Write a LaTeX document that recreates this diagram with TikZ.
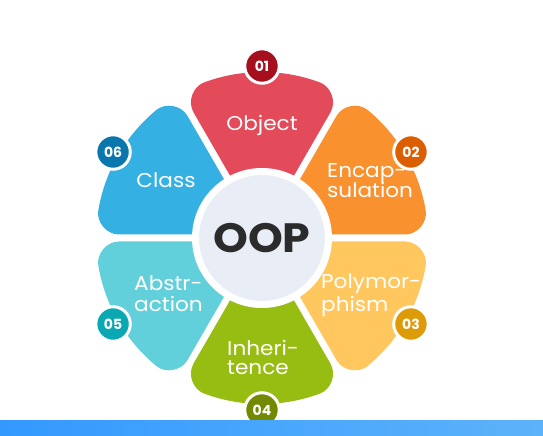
\documentclass[tikz,border=0pt]{standalone}
\usepackage{fontspec}
\setmainfont{Poppins}
\newfontfamily\lblfont[FakeStretch=1.08]{Poppins}
\usetikzlibrary{calc}
\definecolor{cobj}{HTML}{E34A5A}
\definecolor{cenc}{HTML}{F9912F}
\definecolor{cpol}{HTML}{FFC75E}
\definecolor{cinh}{HTML}{97BD12}
\definecolor{cabs}{HTML}{62D0DA}
\definecolor{ccls}{HTML}{35B0E3}
\definecolor{bobj}{HTML}{A50F1E}
\definecolor{benc}{HTML}{DB5F00}
\definecolor{bpol}{HTML}{DE9B08}
\definecolor{binh}{HTML}{738A00}
\definecolor{babs}{HTML}{0AA8B3}
\definecolor{bcls}{HTML}{0A76AE}
\definecolor{ccenter}{HTML}{E9EDF6}
\definecolor{ctext}{HTML}{2B2B2B}
\definecolor{barL}{HTML}{3399FF}
\definecolor{barR}{HTML}{5DB3FA}
\def\petR{166}
\def\petK{23}
\def\petD{9.5}
\def\petG{3.5}
\newcommand\mypetal[3]{%
  \fill[#3] ($(#1+90:\petG)$) -- ($(#1:\petR-\petK)+(#1+90:\petG)$)
    .. controls ($(#1:\petR-0.45*\petK)+(#1+90:\petG)$) and ($(#1+\petD:\petR)+(#1+\petD-90:0.5*\petK)$) .. (#1+\petD:\petR)
    arc[start angle=#1+\petD, end angle=#2-\petD, radius=\petR]
    .. controls ($(#2-\petD:\petR)+(#2-\petD+90:0.5*\petK)$) and ($(#2:\petR-0.45*\petK)+(#2-90:\petG)$) .. ($(#2:\petR-\petK)+(#2-90:\petG)$)
    -- ($(#2-90:\petG)$) -- cycle;}
\tikzset{
  badge/.style={circle, minimum size=34.5, inner sep=0, outer sep=0, draw=white, line width=3, text=white, font=\bfseries\fontsize{14}{14}\selectfont},
  lbl/.style={text=white, inner sep=0, anchor=base west, font=\lblfont\fontsize{20}{20}\selectfont},
}
\begin{document}
\begin{tikzpicture}[x=1pt,y=1pt]
\useasboundingbox (-262,-198) rectangle (281,238);
\fill[white] (-262,-198) rectangle (281,238);
\mypetal{60}{120}{cobj}
\mypetal{120}{180}{ccls}
\mypetal{180}{240}{cabs}
\mypetal{240}{300}{cinh}
\mypetal{300}{360}{cpol}
\mypetal{0}{60}{cenc}
\node[circle, fill=ccenter, draw=white, line width=7, minimum size=133, inner sep=0, outer sep=0, text=ctext, font=\lblfont\bfseries\fontsize{41}{41}\selectfont] (oop) at (0,0) {OOP};
\node[badge, fill=bobj] (b01) at (90:172) {01};
\node[badge, fill=benc] (b02) at (30:172) {02};
\node[badge, fill=bpol] (b03) at (-30:172) {03};
\node[badge, fill=binh] (b04) at (-90:172) {04};
\node[badge, fill=babs] (b05) at (210:172) {05};
\node[badge, fill=bcls] (b06) at (150:172) {06};
\node[lbl, anchor=base] (obj) at (0,107) {Object};
\node[lbl, anchor=base] (cls) at (-96,50) {Class};
\node[lbl] (enc1) at (65,60) {Encap-};
\node[lbl] (enc2) at (65,40) {sulation};
\node[lbl] (pol1) at (59,-50) {Polymor-};
\node[lbl] (pol2) at (59,-73) {phism};
\node[lbl] (inh1) at (-35,-117) {Inheri-};
\node[lbl] (inh2) at (-35,-136) {tence};
\node[lbl] (abs1) at (-128,-52) {Abstr-};
\node[lbl] (abs2) at (-128,-73) {action};
\shade[left color=barL, right color=barR] (-262,-198) rectangle (281,-182);
\end{tikzpicture}
\end{document}
